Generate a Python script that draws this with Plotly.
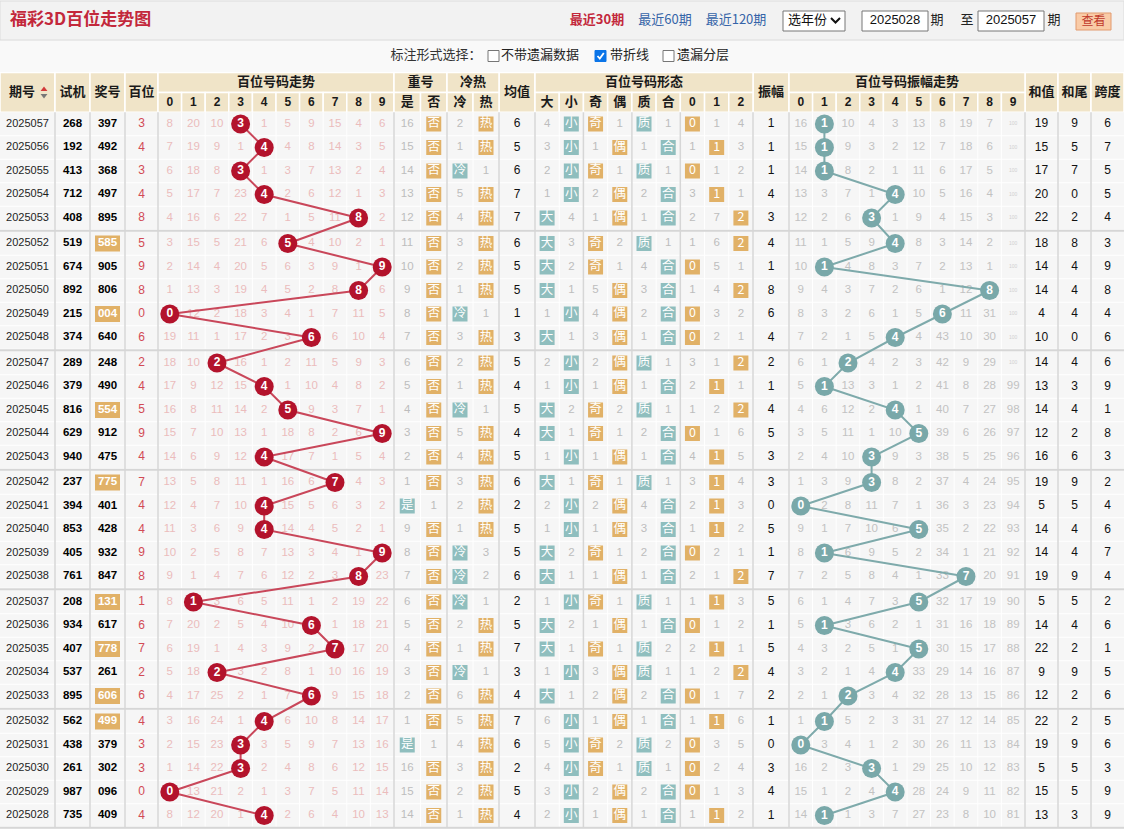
import plotly.graph_objects as go

N = None
# ---------------- data ----------------
periods = ["2025057", "2025056", "2025055", "2025054", "2025053", "2025052", "2025051", "2025050", "2025049", "2025048",
           "2025047", "2025046", "2025045", "2025044", "2025043", "2025042", "2025041", "2025040", "2025039", "2025038",
           "2025037", "2025036", "2025035", "2025034", "2025033", "2025032", "2025031", "2025030", "2025029", "2025028"]
trial_numbers = ["268", "192", "413", "712", "408", "519", "674", "892", "215", "374",
                 "289", "379", "816", "629", "940", "237", "394", "853", "405", "761",
                 "208", "934", "407", "537", "895", "562", "438", "261", "987", "735"]
draw_numbers = ["397", "492", "368", "497", "895", "585", "905", "806", "004", "640",
                "248", "490", "554", "912", "475", "775", "401", "428", "932", "847",
                "131", "617", "778", "261", "606", "499", "379", "302", "096", "409"]
hundreds = [3, 4, 3, 4, 8, 5, 9, 8, 0, 6, 2, 4, 5, 9, 4, 7, 4, 4, 9, 8, 1, 6, 7, 2, 6, 4, 3, 3, 0, 4]

trend_miss = [
    [8, 20, 10, N, 1, 5, 9, 15, 4, 6],
    [7, 19, 9, 1, N, 4, 8, 14, 3, 5],
    [6, 18, 8, N, 1, 3, 7, 13, 2, 4],
    [5, 17, 7, 23, N, 2, 6, 12, 1, 3],
    [4, 16, 6, 22, 7, 1, 5, 11, N, 2],
    [3, 15, 5, 21, 6, N, 4, 10, 2, 1],
    [2, 14, 4, 20, 5, 6, 3, 9, 1, N],
    [1, 13, 3, 19, 4, 5, 2, 8, N, 6],
    [N, 12, 2, 18, 3, 4, 1, 7, 11, 5],
    [19, 11, 1, 17, 2, 3, N, 6, 10, 4],
    [18, 10, N, 16, 1, 2, 11, 5, 9, 3],
    [17, 9, 12, 15, N, 1, 10, 4, 8, 2],
    [16, 8, 11, 14, 2, N, 9, 3, 7, 1],
    [15, 7, 10, 13, 1, 18, 8, 2, 6, N],
    [14, 6, 9, 12, N, 17, 7, 1, 5, 4],
    [13, 5, 8, 11, 1, 16, 6, N, 4, 3],
    [12, 4, 7, 10, N, 15, 5, 6, 3, 2],
    [11, 3, 6, 9, N, 14, 4, 5, 2, 1],
    [10, 2, 5, 8, 7, 13, 3, 4, 1, N],
    [9, 1, 4, 7, 6, 12, 2, 3, N, 23],
    [8, N, 3, 6, 5, 11, 1, 2, 19, 22],
    [7, 20, 2, 5, 4, 10, N, 1, 18, 21],
    [6, 19, 1, 4, 3, 9, 2, N, 17, 20],
    [5, 18, N, 3, 2, 8, 1, 10, 16, 19],
    [4, 17, 25, 2, 1, 7, N, 9, 15, 18],
    [3, 16, 24, 1, N, 6, 10, 8, 14, 17],
    [2, 15, 23, N, 3, 5, 9, 7, 13, 16],
    [1, 14, 22, N, 2, 4, 8, 6, 12, 15],
    [N, 13, 21, 2, 1, 3, 7, 5, 11, 14],
    [8, 12, 20, 1, N, 2, 6, 4, 10, 13],
]

repeat_yes_miss = [16, 15, 14, 13, 12, 11, 10, 9, 8, 7, 6, 5, 4, 3, 2, 1, N, 9, 8, 7,
                   6, 5, 4, 3, 2, 1, N, 16, 15, 14]
repeat_no_miss = [N, N, N, N, N, N, N, N, N, N, N, N, N, N, N, N, 1, N, N, N,
                  N, N, N, N, N, N, 1, N, N, N]
cold_miss = [2, 1, N, 5, 4, 3, 2, 1, N, 3, 2, 1, N, 5, 4, 3, 2, 1, N, N,
             N, 2, 1, N, 6, 5, 4, 3, 2, 1]
hot_miss = [N, N, 1, N, N, N, N, N, 1, N, N, N, 1, N, N, N, N, N, 3, 2,
            1, N, N, 1, N, N, N, N, N, N]
avg_values = [6, 5, 6, 7, 7, 6, 5, 5, 1, 3, 5, 4, 5, 4, 5, 6, 2, 5, 5, 6,
              2, 5, 7, 3, 4, 7, 6, 2, 5, 4]

form_labels = ["大", "小", "奇", "偶", "质", "合", "0", "1", "2"]
form_miss = [
    [4, N, N, 1, N, 1, N, 1, 4],
    [3, N, 1, N, 1, N, 1, N, 3],
    [2, N, N, 1, N, 1, N, 1, 2],
    [1, N, 2, N, 2, N, 3, N, 1],
    [N, 4, 1, N, 1, N, 2, 7, N],
    [N, 3, N, 2, N, 1, 1, 6, N],
    [N, 2, N, 1, 4, N, N, 5, 1],
    [N, 1, 5, N, 3, N, 1, 4, N],
    [1, N, 4, N, 2, N, N, 3, 2],
    [N, 1, 3, N, 1, N, N, 2, 1],
    [2, N, 2, N, N, 1, 3, 1, N],
    [1, N, 1, N, 1, N, 2, N, 1],
    [N, 2, N, 2, N, 1, 1, 2, N],
    [N, 1, N, 1, 2, N, N, 1, 6],
    [1, N, 1, N, 1, N, 4, N, 5],
    [N, 1, N, 1, N, 1, 3, N, 4],
    [2, N, 2, N, 4, N, 2, N, 3],
    [1, N, 1, N, 3, N, 1, N, 2],
    [N, 2, N, 1, 2, N, N, 2, 1],
    [N, 1, 1, N, 1, N, 2, 1, N],
    [1, N, N, 1, N, 1, 1, N, 3],
    [N, 2, 1, N, 1, N, N, 1, 2],
    [N, 1, N, 1, N, 2, 2, N, 1],
    [1, N, 3, N, N, 1, 1, 2, N],
    [N, 1, 2, N, 2, N, N, 1, 7],
    [6, N, 1, N, 1, N, 1, N, 6],
    [5, N, N, 2, N, 2, N, 3, 5],
    [4, N, N, 1, N, 1, N, 2, 4],
    [3, N, 2, N, 2, N, N, 1, 3],
    [2, N, 1, N, 1, N, 1, N, 2],
]

amplitudes = [1, 1, 1, 4, 3, 4, 1, 8, 6, 4, 2, 1, 4, 5, 3, 3, 0, 5, 1, 7,
              5, 1, 5, 4, 2, 1, 0, 3, 4, 1]
amp_miss = [
    [16, N, 10, 4, 3, 13, 8, 19, 7, 100],
    [15, N, 9, 3, 2, 12, 7, 18, 6, 100],
    [14, N, 8, 2, 1, 11, 6, 17, 5, 100],
    [13, 3, 7, 1, N, 10, 5, 16, 4, 100],
    [12, 2, 6, N, 1, 9, 4, 15, 3, 100],
    [11, 1, 5, 9, N, 8, 3, 14, 2, 100],
    [10, N, 4, 8, 3, 7, 2, 13, 1, 100],
    [9, 4, 3, 7, 2, 6, 1, 12, N, 100],
    [8, 3, 2, 6, 1, 5, N, 11, 31, 100],
    [7, 2, 1, 5, N, 4, 43, 10, 30, 100],
    [6, 1, N, 4, 2, 3, 42, 9, 29, 100],
    [5, N, 13, 3, 1, 2, 41, 8, 28, 99],
    [4, 6, 12, 2, N, 1, 40, 7, 27, 98],
    [3, 5, 11, 1, 10, N, 39, 6, 26, 97],
    [2, 4, 10, N, 9, 3, 38, 5, 25, 96],
    [1, 3, 9, N, 8, 2, 37, 4, 24, 95],
    [N, 2, 8, 11, 7, 1, 36, 3, 23, 94],
    [9, 1, 7, 10, 6, N, 35, 2, 22, 93],
    [8, N, 6, 9, 5, 2, 34, 1, 21, 92],
    [7, 2, 5, 8, 4, 1, 33, N, 20, 91],
    [6, 1, 4, 7, 3, N, 32, 17, 19, 90],
    [5, N, 3, 6, 2, 1, 31, 16, 18, 89],
    [4, 3, 2, 5, 1, N, 30, 15, 17, 88],
    [3, 2, 1, 4, N, 33, 29, 14, 16, 87],
    [2, 1, N, 3, 4, 32, 28, 13, 15, 86],
    [1, N, 5, 2, 3, 31, 27, 12, 14, 85],
    [N, 3, 4, 1, 2, 30, 26, 11, 13, 84],
    [16, 2, 3, N, 1, 29, 25, 10, 12, 83],
    [15, 1, 2, 4, N, 28, 24, 9, 11, 82],
    [14, N, 1, 3, 7, 27, 23, 8, 10, 81],
]
sum_values = [19, 15, 17, 20, 22, 18, 14, 14, 4, 10, 14, 13, 14, 12, 16, 19, 5, 14, 14, 19,
              5, 14, 22, 9, 12, 22, 19, 5, 15, 13]
sum_tails = [9, 5, 7, 0, 2, 8, 4, 4, 4, 0, 4, 3, 4, 2, 6, 9, 5, 4, 4, 9,
             5, 4, 2, 9, 2, 2, 9, 5, 5, 3]
spans = [6, 7, 5, 5, 4, 3, 9, 8, 4, 6, 6, 9, 1, 8, 3, 2, 4, 6, 7, 4,
         2, 6, 1, 5, 6, 5, 6, 3, 9, 9]

# ---------------- geometry & styles ----------------
W, H = 1124, 829
NUM = "Liberation Sans, Arial, sans-serif"
CJK = "Noto Sans CJK SC, sans-serif"
ORANGE = "#e1b167"
TEAL = "#8fbebe"
HEAD_BG = "#f0e4c8"
BODY_BG = "#f6f6f6"
SEP = "#d6d6d6"


def edges(x0, x1, n):
    return [x0 + (x1 - x0) * k / n for k in range(n + 1)]


def centers(e):
    return [(e[k] + e[k + 1]) / 2 for k in range(len(e) - 1)]


trend_e = edges(158, 394, 10)
rep_e = edges(394, 447, 2)
ch_e = edges(447, 499, 2)
form_e = edges(535, 753, 9)
amp_e = edges(789, 1025, 10)
trend_c, rep_c, ch_c, form_c, amp_c = map(centers, (trend_e, rep_e, ch_e, form_e, amp_e))
X_PERIOD, X_TRIAL, X_DRAW, X_HUND = 27.5, 72.5, 107.5, 141.5
X_AVG, X_AMPV, X_SUM, X_TAIL, X_SPAN = 517, 771, 1041.5, 1074.5, 1107.5

HY0, HY1, HY2 = 72.5, 92.5, 112.25
ROW_H = 23.5


def ry(i):
    return 124 + i * ROW_H + (i // 5) * 2


NROW = len(periods)
BODY_BOTTOM = ry(NROW - 1) + ROW_H / 2 + 0.5

shapes = []


def rect(x0, y0, x1, y1, fill, line=None, lw=0):
    shapes.append(dict(type="rect", x0=x0, y0=y0, x1=x1, y1=y1, fillcolor=fill,
                       line=dict(color=line or fill, width=lw), layer="below"))


def seg(x0, y0, x1, y1, color, w):
    shapes.append(dict(type="line", x0=x0, y0=y0, x1=x1, y1=y1,
                       line=dict(color=color, width=w), layer="below"))


text_groups = {}


def put(x, y, s, size, color, family=NUM, weight="normal", pos="middle center"):
    key = (size, color, family, weight, pos)
    g = text_groups.setdefault(key, ([], [], []))
    g[0].append(x)
    g[1].append(y)
    g[2].append(s)


box_groups = {}


def box(x, y, s, color, size=15):
    g = box_groups.setdefault((color, size), ([], [], []))
    g[0].append(x)
    g[1].append(y)
    g[2].append(s)


# ---------------- page chrome ----------------
rect(0, 0, W, H, "#f7f7f7")
rect(0, 1, W, 40, "#f2f2f2", "#dcdcdc", 1)
rect(0, 41, W, 71, "#f9f9f9")
put(10, 21, "福彩3D百位走势图", 17, "#c3283b", CJK, "bold", "middle right")
put(597, 21, "最近30期", 13, "#c3283b", CJK, "bold")
put(665, 21, "最近60期", 13, "#3564a8", CJK)
put(736, 21, "最近120期", 13, "#3564a8", CJK)
rect(783, 11, 845, 31, "#ffffff", "#767676", 1)
put(788, 21, "选年份", 13, "#111111", CJK, "normal", "middle right")
shapes.append(dict(type="path", path="M 831 18 L 835.5 22.5 L 840 18",
                   line=dict(color="#111111", width=2)))
rect(862, 11, 928, 31, "#ffffff", "#767676", 1)
put(895, 21, "2025028", 13, "#111111", NUM)
put(937, 21, "期", 13, "#222222", CJK)
put(967, 21, "至", 13, "#222222", CJK)
rect(978, 11, 1044, 31, "#ffffff", "#767676", 1)
put(1011, 21, "2025057", 13, "#111111", NUM)
put(1054, 21, "期", 13, "#222222", CJK)
rect(1076, 13, 1111, 30, "#f9cba7", "#e29a6e", 1)
put(1093.5, 21.5, "查看", 12, "#c0392b", CJK)

put(436, 56, "标注形式选择：", 13, "#333333", CJK)
put(501, 56, "不带遗漏数据", 13, "#222222", CJK, "normal", "middle right")
put(610, 56, "带折线", 13, "#222222", CJK, "normal", "middle right")
put(677, 56, "遗漏分层", 13, "#222222", CJK, "normal", "middle right")
rect(488, 50.5, 499, 61.5, "#ffffff", "#767676", 1)
rect(595, 50.5, 606, 61.5, "#0b75e8", "#0b75e8", 1)
shapes.append(dict(type="path", path="M 597.5 56 L 599.8 58.6 L 603.8 53",
                   line=dict(color="#ffffff", width=1.8)))
rect(663, 50.5, 674, 61.5, "#ffffff", "#767676", 1)

# ---------------- header ----------------
def hcell(x0, x1, y0, y1, label, size=13, family=CJK):
    rect(x0, y0, x1, y1, HEAD_BG, "#ffffff", 1.5)
    if label:
        put((x0 + x1) / 2, (y0 + y1) / 2 + 0.5, label, size, "#1a1a1a", family, "bold")


for (x0, x1, lab) in [(0, 55, ""), (55, 90, "试机"), (90, 125, "奖号"), (125, 158, "百位"),
                      (499, 535, "均值"), (753, 789, "振幅"), (1025, 1058, "和值"),
                      (1058, 1091, "和尾"), (1091, 1124, "跨度")]:
    hcell(x0, x1, HY0, HY2, lab)
put(22, 92.5, "期号", 13, "#1a1a1a", CJK, "bold")
fig = go.Figure()
for (x0, x1, lab) in [(158, 394, "百位号码走势"), (394, 447, "重号"), (447, 499, "冷热"),
                      (535, 753, "百位号码形态"), (789, 1025, "百位号码振幅走势")]:
    hcell(x0, x1, HY0, HY1, lab)
for k in range(10):
    hcell(trend_e[k], trend_e[k + 1], HY1, HY2, str(k), 12, NUM)
    hcell(amp_e[k], amp_e[k + 1], HY1, HY2, str(k), 12, NUM)
for k, lab in enumerate(["是", "否"]):
    hcell(rep_e[k], rep_e[k + 1], HY1, HY2, lab)
for k, lab in enumerate(["冷", "热"]):
    hcell(ch_e[k], ch_e[k + 1], HY1, HY2, lab)
for k, lab in enumerate(form_labels):
    hcell(form_e[k], form_e[k + 1], HY1, HY2, lab, 13 if k < 6 else 12, CJK if k < 6 else NUM)

# ---------------- body background & grid ----------------
rect(0, HY2, W, BODY_BOTTOM, BODY_BG)
all_v = [55, 90, 125] + trend_e + rep_e[1:] + ch_e[1:] + [535] + form_e[1:] + [789] + amp_e[1:] + [1058, 1091]
for x in all_v:
    seg(x, HY2, x, BODY_BOTTOM, "#ffffff", 1)
for i in range(NROW):
    seg(0, ry(i) + ROW_H / 2, W, ry(i) + ROW_H / 2, "#ffffff", 1)
for x in [55, 90, 125, 158, 394, 447, 499, 535, 583.4, 631.9, 680.3, 753, 789, 1025, 1058, 1091]:
    seg(x, HY2, x, BODY_BOTTOM, SEP, 1.5)
for g in range(1, NROW // 5):
    y = (ry(5 * g - 1) + ry(5 * g)) / 2
    seg(0, y, W, y, SEP, 2)
seg(0, BODY_BOTTOM, W, BODY_BOTTOM, SEP, 2)

# ---------------- body cells ----------------
for i in range(NROW):
    y = ry(i)
    put(X_PERIOD, y, periods[i], 11, "#1e1e1e", NUM)
    put(X_TRIAL, y, trial_numbers[i], 11.5, "#000000", NUM, "bold")
    dn = draw_numbers[i]
    if len(set(dn)) < 3:
        rect(X_DRAW - 12.5, y - 8, X_DRAW + 12.5, y + 8, ORANGE)
        put(X_DRAW, y, dn, 11.5, "#ffffff", NUM, "bold")
    else:
        put(X_DRAW, y, dn, 11.5, "#000000", NUM, "bold")
    put(X_HUND, y, str(hundreds[i]), 12, "#d24a55", NUM)
    for k in range(10):
        v = trend_miss[i][k]
        if v is not None:
            put(trend_c[k], y, str(v), 11.5, "#ebbcbc", NUM)
    # repeat
    if repeat_yes_miss[i] is None:
        box(rep_c[0], y, "是", TEAL)
    else:
        put(rep_c[0], y, str(repeat_yes_miss[i]), 11.5, "#bdbdbd", NUM)
    if repeat_no_miss[i] is None:
        box(rep_c[1], y, "否", ORANGE)
    else:
        put(rep_c[1], y, str(repeat_no_miss[i]), 11.5, "#bdbdbd", NUM)
    # cold / hot
    if cold_miss[i] is None:
        box(ch_c[0], y, "冷", TEAL)
    else:
        put(ch_c[0], y, str(cold_miss[i]), 11.5, "#bdbdbd", NUM)
    if hot_miss[i] is None:
        box(ch_c[1], y, "热", ORANGE)
    else:
        put(ch_c[1], y, str(hot_miss[i]), 11.5, "#bdbdbd", NUM)
    put(X_AVG, y, str(avg_values[i]), 12, "#111111", NUM)
    for k in range(9):
        v = form_miss[i][k]
        if v is None:
            col = TEAL if k in (0, 1, 4, 5) else ORANGE
            box(form_c[k], y, form_labels[k], col)
        else:
            put(form_c[k], y, str(v), 11.5, "#bdbdbd", NUM)
    put(X_AMPV, y, str(amplitudes[i]), 12, "#111111", NUM)
    for k in range(10):
        v = amp_miss[i][k]
        if v is None:
            continue
        if v >= 100:
            put(amp_c[k], y, str(v), 5, "#d0d0d0", NUM)
        else:
            put(amp_c[k], y, str(v), 11.5, "#c2c2c2", NUM)
    put(X_SUM, y, str(sum_values[i]), 12, "#111111", NUM)
    put(X_TAIL, y, str(sum_tails[i]), 12, "#111111", NUM)
    put(X_SPAN, y, str(spans[i]), 12, "#111111", NUM)

for (size, color, family, weight, pos), (xs, ys, ts) in text_groups.items():
    fig.add_trace(go.Scatter(x=xs, y=ys, text=ts, mode="text", textposition=pos,
                             textfont=dict(size=size, color=color, family=family, weight=weight),
                             hoverinfo="skip", showlegend=False, cliponaxis=False))

# sort arrows next to 期号
fig.add_trace(go.Scatter(x=[44, 44], y=[89.5, 95.5], mode="markers",
                         marker=dict(symbol=["triangle-up", "triangle-down"], size=6,
                                     color=["#d23a3a", "#777777"], line=dict(width=0)),
                         hoverinfo="skip", showlegend=False))

# trend polyline and balls
ys_rows = [ry(i) for i in range(NROW)]
fig.add_trace(go.Scatter(x=[trend_c[d] for d in hundreds], y=ys_rows, mode="lines",
                         line=dict(color="#c9475a", width=2), hoverinfo="skip", showlegend=False))
fig.add_trace(go.Scatter(x=[trend_c[d] for d in hundreds], y=ys_rows, mode="markers+text",
                         text=[str(d) for d in hundreds], textposition="middle center",
                         textfont=dict(size=12, color="#ffffff", family=NUM, weight="bold"),
                         marker=dict(size=19, color="#b3132c", line=dict(width=0)),
                         hoverinfo="skip", showlegend=False))
fig.add_trace(go.Scatter(x=[amp_c[a] for a in amplitudes], y=ys_rows, mode="lines",
                         line=dict(color="#7eaaab", width=2), hoverinfo="skip", showlegend=False))
fig.add_trace(go.Scatter(x=[amp_c[a] for a in amplitudes], y=ys_rows, mode="markers+text",
                         text=[str(a) for a in amplitudes], textposition="middle center",
                         textfont=dict(size=12, color="#ffffff", family=NUM, weight="bold"),
                         marker=dict(size=19, color="#79a8a9", line=dict(width=0)),
                         hoverinfo="skip", showlegend=False))

for (color, size), (xs, ys, ts) in box_groups.items():
    fig.add_trace(go.Scatter(x=xs, y=ys, text=ts, mode="markers+text", textposition="middle center",
                             textfont=dict(size=12.5, color="#ffffff", family=CJK),
                             marker=dict(symbol="square", size=size, color=color, line=dict(width=0)),
                             hoverinfo="skip", showlegend=False))

fig.update_layout(
    width=W, height=H, margin=dict(l=0, r=0, t=0, b=0),
    paper_bgcolor="#f7f7f7", plot_bgcolor="#f7f7f7",
    xaxis=dict(range=[0, W], visible=False, fixedrange=True),
    yaxis=dict(range=[H, 0], visible=False, fixedrange=True),
    shapes=shapes, showlegend=False,
)
fig.write_html("out.html", config={"displayModeBar": False})
